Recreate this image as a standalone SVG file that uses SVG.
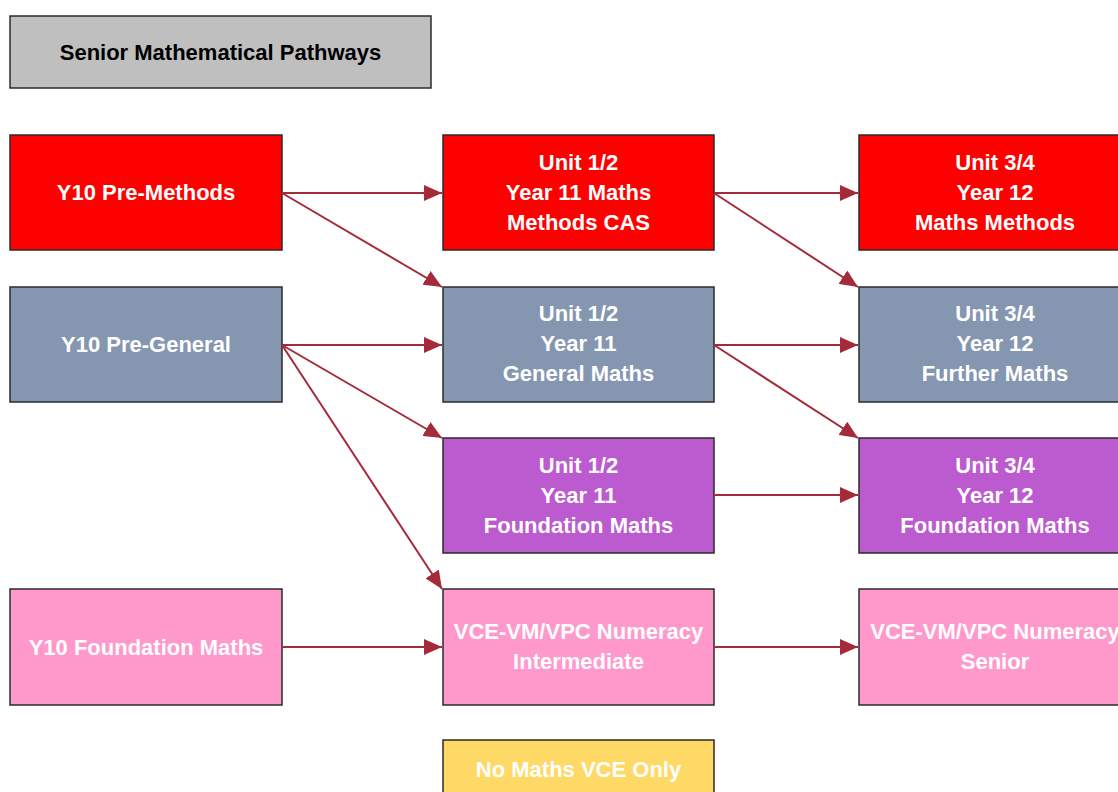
<svg xmlns="http://www.w3.org/2000/svg" width="1118" height="792" viewBox="0 0 1118 792">
<defs>
<marker id="ah" markerWidth="9" markerHeight="8" refX="9" refY="4" orient="auto" markerUnits="strokeWidth">
<path d="M0,0 L9,4 L0,8 Z" fill="#A52A3A"/>
</marker>
<style>
.box{stroke:#2b2b2b;stroke-width:1.5}
.t{font-family:"Liberation Sans",Arial,sans-serif;font-weight:bold;font-size:22px;fill:#fff;text-anchor:middle}
.tt{fill:#000}
.red{fill:#FF0000}.gray{fill:#8597B0}.pur{fill:#BC5ACF}.pink{fill:#FF99CC}.yel{fill:#FFD966}.title{fill:#BFBFBF}
.c{stroke:#A52A3A;stroke-width:2;fill:none;marker-end:url(#ah)}
</style>
</defs>
<rect width="1118" height="792" fill="#fff"/>
<g id="title"><rect class="box title" x="10" y="16" width="421" height="72"/><text class="t tt" x="220.5" y="60">Senior Mathematical Pathways</text></g>
<g id="y10-pre-methods"><rect class="box red" x="10" y="135" width="272" height="115"/><text class="t" x="146" y="200">Y10 Pre-Methods</text></g>
<g id="y10-pre-general"><rect class="box gray" x="10" y="287" width="272" height="115"/><text class="t" x="146" y="352">Y10 Pre-General</text></g>
<g id="y10-foundation"><rect class="box pink" x="10" y="589" width="272" height="116"/><text class="t" x="146" y="655">Y10 Foundation Maths</text></g>
<g id="u12-methods"><rect class="box red" x="443" y="135" width="271" height="115"/><text class="t" x="578.5" y="170">Unit 1/2</text><text class="t" x="578.5" y="200">Year 11 Maths</text><text class="t" x="578.5" y="230">Methods CAS</text></g>
<g id="u12-general"><rect class="box gray" x="443" y="287" width="271" height="115"/><text class="t" x="578.5" y="321">Unit 1/2</text><text class="t" x="578.5" y="351">Year 11</text><text class="t" x="578.5" y="381">General Maths</text></g>
<g id="u12-foundation"><rect class="box pur" x="443" y="438" width="271" height="115"/><text class="t" x="578.5" y="473">Unit 1/2</text><text class="t" x="578.5" y="503">Year 11</text><text class="t" x="578.5" y="533">Foundation Maths</text></g>
<g id="vce-intermediate"><rect class="box pink" x="443" y="589" width="271" height="116"/><text class="t" x="578.5" y="639">VCE-VM/VPC Numeracy</text><text class="t" x="578.5" y="669">Intermediate</text></g>
<g id="no-maths"><rect class="box yel" x="443" y="740" width="271" height="80"/><text class="t" x="578.5" y="777">No Maths VCE Only</text></g>
<g id="u34-methods"><rect class="box red" x="859" y="135" width="272" height="115"/><text class="t" x="995" y="170">Unit 3/4</text><text class="t" x="995" y="200">Year 12</text><text class="t" x="995" y="230">Maths Methods</text></g>
<g id="u34-further"><rect class="box gray" x="859" y="287" width="272" height="115"/><text class="t" x="995" y="321">Unit 3/4</text><text class="t" x="995" y="351">Year 12</text><text class="t" x="995" y="381">Further Maths</text></g>
<g id="u34-foundation"><rect class="box pur" x="859" y="438" width="272" height="115"/><text class="t" x="995" y="473">Unit 3/4</text><text class="t" x="995" y="503">Year 12</text><text class="t" x="995" y="533">Foundation Maths</text></g>
<g id="vce-senior"><rect class="box pink" x="859" y="589" width="272" height="116"/><text class="t" x="995" y="639">VCE-VM/VPC Numeracy</text><text class="t" x="995" y="669">Senior</text></g>
<g id="connectors">
<line class="c" x1="282" y1="193" x2="442" y2="193"/>
<line class="c" x1="282" y1="193" x2="442" y2="287"/>
<line class="c" x1="714" y1="193" x2="858" y2="193"/>
<line class="c" x1="714" y1="193" x2="858" y2="287"/>
<line class="c" x1="282" y1="345" x2="442" y2="345"/>
<line class="c" x1="282" y1="345" x2="442" y2="438"/>
<line class="c" x1="282" y1="345" x2="442" y2="589"/>
<line class="c" x1="714" y1="345" x2="858" y2="345"/>
<line class="c" x1="714" y1="345" x2="858" y2="438"/>
<line class="c" x1="714" y1="495" x2="858" y2="495"/>
<line class="c" x1="282" y1="647" x2="442" y2="647"/>
<line class="c" x1="714" y1="647" x2="858" y2="647"/>
</g>
</svg>
